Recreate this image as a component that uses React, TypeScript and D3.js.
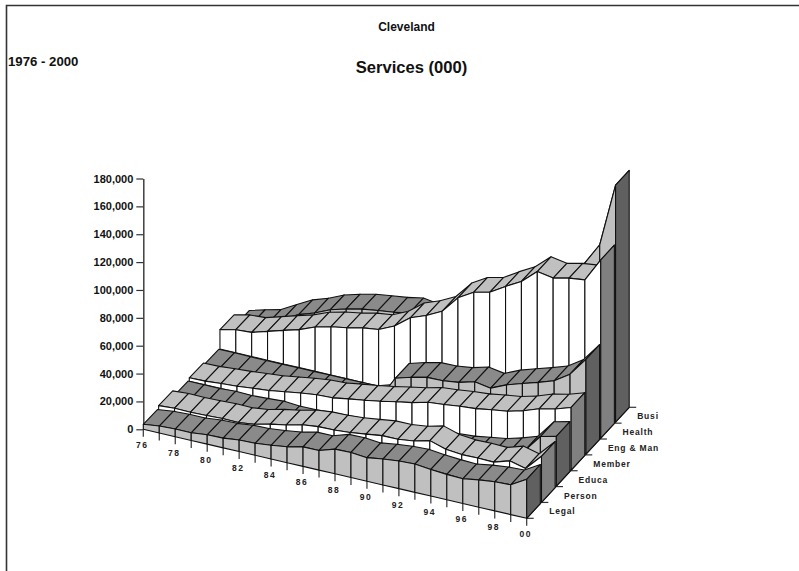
import { useEffect, useRef } from "react";
import * as d3 from "d3";

const WIDTH = 799;
const HEIGHT = 571;

const YEARS = ["76", "77", "78", "79", "80", "81", "82", "83", "84", "85", "86", "87", "88", "89", "90", "91", "92", "93", "94", "95", "96", "97", "98", "99", "00"];
const SERIES = ["Legal", "Person", "Educa", "Member", "Eng & Man", "Health", "Busi"];
const Y_TICKS = [0, 20000, 40000, 60000, 80000, 100000, 120000, 140000, 160000, 180000];

const LEGAL = [3600, 5000, 5500, 5500, 6700, 7000, 8300, 8600, 9800, 11400, 14000, 14100, 17700, 18000, 16900, 18600, 19800, 20300, 19100, 18200, 17700, 19600, 20900, 21400, 28000];
const PERSON = [5500, 6300, 6100, 6400, 6900, 6700, 8100, 10800, 12900, 15700, 17000, 17300, 18100, 19600, 21200, 21300, 22700, 25600, 22100, 20900, 21100, 20800, 24400, 21600, 33000];
const EDUCA = [1000, 1000, 1000, 1700, 1300, 1900, 2600, 1700, 1900, 2500, 3000, 3500, 4500, 5000, 6000, 7000, 7500, 8600, 9400, 11300, 13000, 16100, 20000, 33000, 35800];
const MEMBER = [2400, 2700, 3700, 4400, 5600, 6600, 8400, 10100, 11500, 12000, 13900, 15600, 17500, 19800, 21900, 24800, 25800, 27200, 28200, 30100, 31600, 34700, 38800, 41200, 45000];
const ENG_MAN = [800, 1000, 700, 700, 800, 800, 900, 1000, 1000, 1100, 1200, 4800, 22500, 25900, 28500, 28700, 30200, 33300, 31400, 36400, 40100, 43500, 47300, 54700, 68000];
const HEALTH = [14000, 16600, 17300, 20700, 24100, 27300, 31800, 34700, 36600, 39200, 40700, 45800, 54400, 58700, 64400, 76700, 83400, 86000, 92900, 99100, 108900, 106900, 109500, 110900, 127900];
const BUSI = [5600, 8800, 11600, 17900, 23900, 27700, 32700, 35900, 38500, 40100, 41600, 43800, 42000, 45000, 50000, 58000, 64000, 68000, 74000, 80000, 90000, 85000, 108000, 124600, 170000];

const VALUES = [LEGAL, PERSON, EDUCA, MEMBER, ENG_MAN, HEALTH, BUSI];

// ribbons alternate between the two colour sets, front to back
const TOP_FILL = ["#8a8a8a", "#c0c0c0"];
const FRONT_FILL = ["#c0c0c0", "#ffffff"];
const END_FILL = ["#606060", "#808080"];

const FONT = "'Liberation Sans', Arial, sans-serif";

export default function App() {
  const svgRef = useRef<SVGSVGElement>(null);

  useEffect(() => {
    const svg = d3.select(svgRef.current);
    svg.selectAll("*").remove();

    // oblique projection: year runs right and down, depth runs right and up
    // (depth fans out a little towards the far years, as in the original)
    const yearX = d3.scaleLinear().domain([0, 24]).range([143.3, 526.7]);
    const yearY = d3.scaleLinear().domain([0, 24]).range([0, 89]);
    const fan = d3.scaleLinear().domain([0, 24]).range([1.035, 1]);
    const depthX = d3.scaleLinear().domain([0, 7]).range([0, 102.5]);
    const depthY = d3.scaleLinear().domain([0, 7]).range([0, -111]);
    const valueY = d3.scaleLinear().domain([0, 180000]).range([429.3, 178.5]);
    const band = d3.scaleBand().domain(SERIES).range([0, 7]).paddingInner(0.08);

    const project = (i: number, d: number, v: number): [number, number] => [
      yearX(i) + depthX(d) * fan(i),
      valueY(v) + yearY(i) + depthY(d),
    ];
    const path = d3.line();
    const poly = (pts: [number, number][], fill: string) =>
      svg
        .append("path")
        .attr("d", path(pts) + "Z")
        .attr("fill", fill)
        .attr("stroke", "#111")
        .attr("stroke-width", 1.1)
        .attr("stroke-linejoin", "round");

    // Frame
    svg.append("path")
      .attr("d", d3.line()([[6.5, HEIGHT], [6.5, 5.5], [WIDTH, 5.5]]))
      .attr("fill", "none")
      .attr("stroke", "#333")
      .attr("stroke-width", 1.6);

    // Titles
    const title = (text: string, x: number, y: number, size: number, anchor: string) =>
      svg.append("text")
        .text(text)
        .attr("x", x)
        .attr("y", y)
        .attr("text-anchor", anchor)
        .attr("font-family", FONT)
        .attr("font-weight", "bold")
        .attr("font-size", size)
        .attr("fill", "#111");
    title("Cleveland", 406.5, 31, 12, "middle");
    title("Services (000)", 411.5, 73, 16.6, "middle");
    title("1976 - 2000", 8, 66, 13.2, "start");

    // Y axis
    svg.append("g")
      .attr("transform", `translate(${yearX(0)},0)`)
      .call(d3.axisLeft(valueY).tickValues(Y_TICKS).tickSize(7).tickSizeOuter(0).tickPadding(3).tickFormat(d3.format(",")))
      .call((a) => a.select(".domain").attr("stroke", "#333").attr("stroke-width", 1.4))
      .call((a) => a.selectAll("line").attr("stroke", "#333").attr("stroke-width", 1.2))
      .call((a) => a.selectAll("text").attr("fill", "#111").attr("font-family", FONT).attr("font-weight", "bold").attr("font-size", 11));

    // Floor ticks, year side
    YEARS.forEach((label, i) => {
      const [x, y] = project(i, 0, 0);
      svg.append("line").attr("x1", x).attr("x2", x).attr("y1", y).attr("y2", y + 7.5).attr("stroke", "#333").attr("stroke-width", 1.2);
      if (i % 2 === 0) {
        svg.append("text")
          .text(label)
          .attr("x", x - 1)
          .attr("y", y + 19)
          .attr("text-anchor", "middle")
          .attr("font-family", FONT)
          .attr("font-weight", "bold")
          .attr("font-size", 8.5)
          .attr("letter-spacing", 1.5)
          .attr("fill", "#222");
      }
    });

    // Floor ticks and labels, depth side
    const [ax0, ay0] = project(24, 0, 0);
    const [ax1, ay1] = project(24, 7, 0);
    svg.append("line").attr("x1", ax0).attr("y1", ay0).attr("x2", ax1).attr("y2", ay1).attr("stroke", "#111").attr("stroke-width", 1.2);
    d3.range(8).forEach((d) => {
      const [x, y] = project(24, d, 0);
      svg.append("line").attr("x1", x).attr("x2", x + 7).attr("y1", y).attr("y2", y).attr("stroke", "#333").attr("stroke-width", 1.2);
    });
    SERIES.forEach((name, s) => {
      const [x, y] = project(24, s + 0.5, 0);
      svg.append("text")
        .text(name)
        .attr("x", x + 15.3)
        .attr("y", y + 4)
        .attr("font-family", FONT)
        .attr("font-weight", "bold")
        .attr("font-size", 8.5)
        .attr("letter-spacing", 0.8)
        .attr("fill", "#222");
    });

    // Ribbons, back to front and far year to near year
    d3.range(SERIES.length - 1, -1, -1).forEach((s) => {
      const vals = VALUES[s];
      const d0 = band(SERIES[s]) ?? 0;
      const d1 = d0 + band.bandwidth();
      const tone = s % 2;
      for (let i = 0; i < YEARS.length - 1; i++) {
        poly(
          [project(i, d0, vals[i]), project(i + 1, d0, vals[i + 1]), project(i + 1, d1, vals[i + 1]), project(i, d1, vals[i])],
          TOP_FILL[tone]
        );
        poly(
          [project(i, d0, 0), project(i + 1, d0, 0), project(i + 1, d0, vals[i + 1]), project(i, d0, vals[i])],
          FRONT_FILL[tone]
        );
      }
      const last = YEARS.length - 1;
      poly(
        [project(last, d0, 0), project(last, d1, 0), project(last, d1, vals[last]), project(last, d0, vals[last])],
        END_FILL[tone]
      );
    });
  }, []);

  return (
    <svg
      ref={svgRef}
      viewBox={`0 0 ${WIDTH} ${HEIGHT}`}
      width={WIDTH}
      height={HEIGHT}
      style={{ position: "absolute", left: 0, top: 0, background: "#fff" }}
    />
  );
}
